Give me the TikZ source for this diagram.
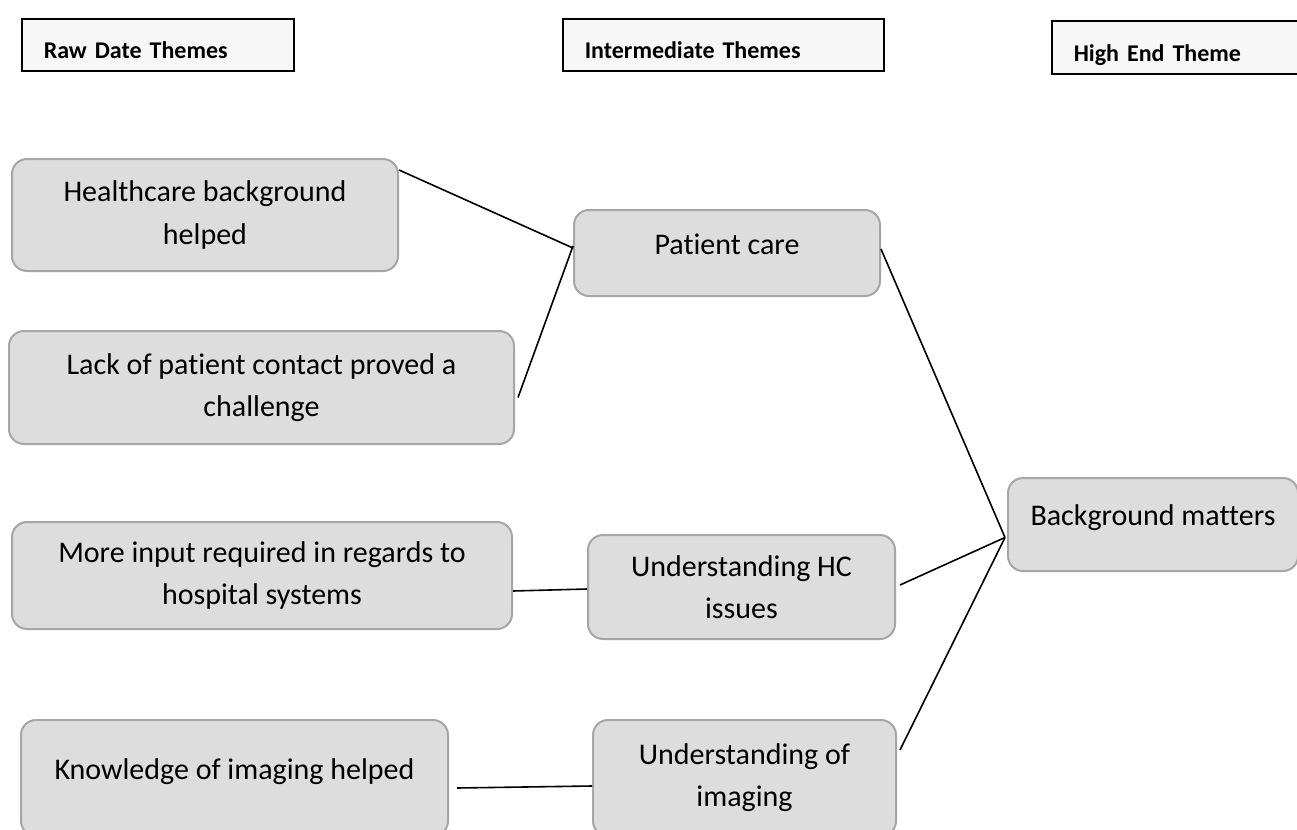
\documentclass[tikz,border=0pt]{standalone}
\usepackage{fontspec}
\setmainfont{Carlito}[Ligatures=NoCommon]
\usepackage{tikz}
\definecolor{cellfill}{HTML}{DDDDDD}
\definecolor{cellline}{HTML}{A6A6A6}
\definecolor{headfill}{HTML}{F7F7F7}
\tikzset{
	theme/.style={
		rectangle,
		rounded corners=7.5pt,
		draw=cellline,
		line width=1pt,
		fill=cellfill,
		anchor=north west,
		align=center,
		font=\fontsize{15}{21}\selectfont
	},
	oneline/.style={text height=11pt, text depth=10pt},
	heading/.style={
		rectangle,
		draw=black,
		line width=0.8pt,
		fill=headfill,
		anchor=north west,
		align=left,
		text width=#1,
		inner xsep=11pt,
		minimum height=26pt,
		text height=14pt,
		text depth=0pt,
		font=\bfseries\fontsize{12}{14}\selectfont
	},
	link/.style={draw=black, line width=0.8pt}
}

\begin{document}
\begin{tikzpicture}[x=0.5pt, y=-0.5pt]
	\path[use as bounding box, fill=white] (0,0) rectangle (1297,830);

	\node[heading=114pt] (raw) at (21,18) {Raw Date Themes};
	\node[heading=138.5pt] (mid) at (562,18) {Intermediate Themes};
	\node[heading=108pt, minimum height=26.5pt] (high) at (1051,20) {High End Theme};

	\node[theme, minimum width=193pt, minimum height=56pt] (health) at (11,158) {Healthcare background\\helped};
	\node[theme, minimum width=252.5pt, minimum height=56.5pt] (lack) at (8,330) {Lack of patient contact proved a\\challenge};
	\node[theme, minimum width=250pt, minimum height=53.5pt] (input) at (11,521) {More input required in regards to\\hospital systems};
	\node[theme, oneline, minimum width=213.5pt, minimum height=58pt] (knowledge) at (20,719) {Knowledge of imaging helped};

	\node[theme, oneline, minimum width=153pt, minimum height=43pt] (care) at (573,209) {Patient care};
	\node[theme, minimum width=153.5pt, minimum height=52pt] (hcissues) at (587,534) {Understanding HC\\issues};
	\node[theme, minimum width=151.5pt, minimum height=58pt] (imaging) at (592,719) {Understanding of\\imaging};

	\node[theme, oneline, minimum width=145pt, minimum height=46.5pt] (matters) at (1007,477) {Background matters};
	\coordinate (hub) at ([xshift=-1pt,yshift=-6.5pt]matters.west);

	\draw[link] ([yshift=-6pt]health.north east) -- ([yshift=2.5pt]care.west);
	\draw[link] ([xshift=1.5pt,yshift=-5pt]lack.east) -- ([yshift=3.5pt]care.west);
	\draw[link] ([yshift=-7.75pt]input.east) -- ([yshift=-1pt]hcissues.west);
	\draw[link] ([xshift=4pt,yshift=-5pt]knowledge.east) -- ([yshift=-4pt]imaging.west);
	\draw[link] ([yshift=2pt]care.east) -- (hub);
	\draw[link] ([xshift=2pt,yshift=1pt]hcissues.east) -- (hub);
	\draw[link] ([xshift=1.5pt,yshift=-15.5pt]imaging.north east) -- (hub);
\end{tikzpicture}
\end{document}
